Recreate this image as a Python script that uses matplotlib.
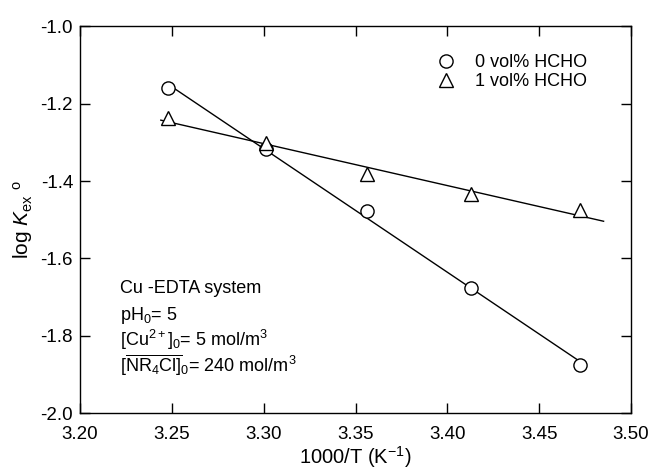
import matplotlib
matplotlib.use("Agg")
import matplotlib.pyplot as plt
import numpy as np

plt.rcParams["font.family"] = ["Liberation Sans", "DejaVu Sans"]
plt.rcParams["mathtext.fontset"] = "custom"
plt.rcParams["mathtext.rm"] = "Liberation Sans"
plt.rcParams["mathtext.it"] = "Liberation Sans:italic"

# 1000/T (K^-1) and log Kex for both HCHO contents
inv_t = [3.248, 3.301, 3.356, 3.413, 3.472]
logk_0 = [-1.160, -1.318, -1.478, -1.677, -1.875]
logk_1 = [-1.237, -1.302, -1.383, -1.433, -1.476]

# extent of the fitted lines
fit_x_0 = [3.248, 3.472]
fit_x_1 = [3.244, 3.485]

fig = plt.figure(figsize=(6.5, 4.7), dpi=100)
ax = fig.add_axes([0.123, 0.121, 0.848, 0.823])

for y, fx in ((logk_0, fit_x_0), (logk_1, fit_x_1)):
    slope, icpt = np.polyfit(inv_t, y, 1)
    xx = np.asarray(fx)
    ax.plot(xx, slope * xx + icpt, color="black", linewidth=1.0)

ax.plot(inv_t, logk_0, linestyle="none", marker="o", markersize=9.5,
        markerfacecolor="white", markeredgecolor="black", markeredgewidth=1.0,
        label="0 vol% HCHO")
ax.plot(inv_t, logk_1, linestyle="none", marker="^", markersize=9.5,
        markerfacecolor="white", markeredgecolor="black", markeredgewidth=1.0,
        label="1 vol% HCHO")

ax.set_xlim(3.20, 3.50)
ax.set_ylim(-2.0, -1.0)
ax.set_xticks(np.arange(3.20, 3.501, 0.05))
ax.set_yticks(np.arange(-2.0, -0.999, 0.2))
ax.xaxis.set_major_formatter(matplotlib.ticker.FormatStrFormatter("%.2f"))
ax.yaxis.set_major_formatter(matplotlib.ticker.FormatStrFormatter("%.1f"))
ax.tick_params(direction="in", length=7, width=1, top=True, right=True,
               labelsize=13.5)
ax.tick_params(axis="x", pad=9)
ax.tick_params(axis="y", pad=5)
for sp in ax.spines.values():
    sp.set_linewidth(1.0)

ax.set_xlabel("1000/T (K$^{-1}$)", fontsize=14.5, labelpad=1)
ax.set_ylabel("log $K$$_{\\mathrm{ex}}$ $^{\\mathrm{o}}$", fontsize=15, labelpad=4)

ax.legend(loc="upper right", bbox_to_anchor=(0.95, 0.97), frameon=False,
          fontsize=13, handletextpad=1.0, labelspacing=0.12, handlelength=1.2)

notes = [
    "Cu -EDTA system",
    "pH$_0$= 5",
    "[Cu$^{2+}$]$_0$= 5 mol/m$^3$",
    "[$\\overline{\\mathrm{NR_4Cl]}}$$_0$= 240 mol/m$^3$",
]
for i, s in enumerate(notes):
    ax.text(0.072, 0.310 - i * 0.068, s, transform=ax.transAxes,
            fontsize=13, va="baseline")

fig.savefig("out.png", dpi=100)
